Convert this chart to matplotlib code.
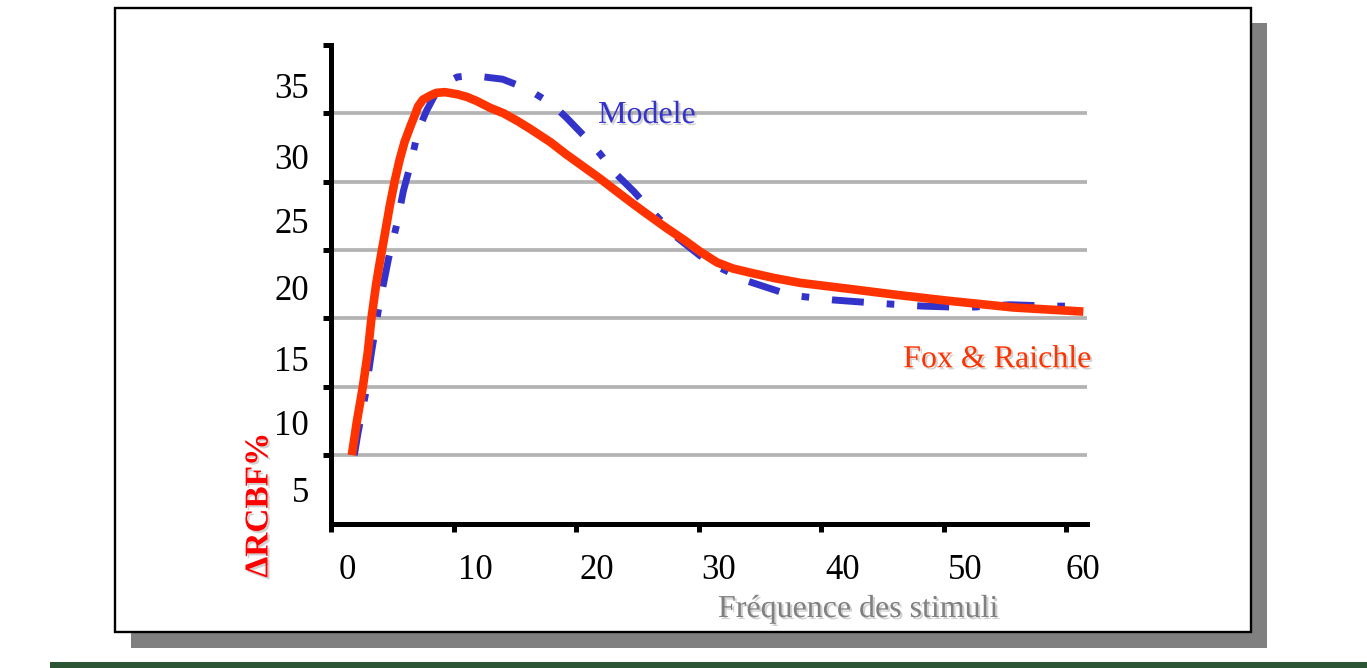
import matplotlib
matplotlib.use("Agg")
import matplotlib.pyplot as plt
from matplotlib.patches import Rectangle
from matplotlib.transforms import ScaledTranslation
import matplotlib.patheffects as pe

# ---- data ----
red_x = [1.7, 2.1, 2.6, 3.0, 3.3, 3.7, 4.0, 4.4, 4.8, 5.2, 5.6, 6.0, 6.5, 6.9, 7.1, 7.5,
         8.1, 8.6, 9.3, 10.3, 11.1, 11.9, 13.0, 14.1, 15.2, 16.2, 17.9, 19.2, 20.6, 22.0,
         23.3, 24.7, 26.0, 27.4, 28.8, 30.1, 31.5, 32.8, 34.2, 36.2, 38.3, 42.4, 46.4,
         50.3, 55.7, 61.4]
red_y = [5.0, 7.4, 10.0, 12.5, 15.0, 17.6, 19.2, 21.2, 23.25, 25.05, 26.6, 27.9, 29.1, 30.0,
         30.5, 31.0, 31.3, 31.5, 31.55, 31.4, 31.2, 30.9, 30.4, 30.0, 29.45, 28.9, 27.9, 27.0,
         26.1, 25.2, 24.3, 23.35, 22.5, 21.6, 20.75, 19.9, 19.1, 18.65, 18.35, 17.95, 17.6,
         17.15, 16.7, 16.3, 15.8, 15.5]

blue_x = [1.9, 2.2, 2.8, 3.3, 3.9, 4.7, 5.4, 5.9, 6.5, 7.1, 7.8, 8.6, 9.3, 10.3, 11.5,
          14.0, 16.0, 18.0, 19.2, 20.6, 22.0, 23.0, 24.7, 25.5, 28.2, 30.1, 31.5, 34.1,
          37.5, 41.0, 44.8, 48.3, 51.9, 55.4, 58.9, 60.7]
blue_y = [5.0, 6.6, 9.4, 12.5, 15.8, 19.4, 22.0, 24.3, 26.3, 28.7, 30.2, 31.55, 32.2, 32.66,
          32.77, 32.5, 31.8, 30.7, 29.7, 28.4, 27.0, 25.8, 24.3, 23.5, 20.95, 19.6, 18.8,
          17.7, 16.7, 16.35, 16.1, 15.9, 15.8, 16.0, 15.9, 15.9]

x_ticks = [0, 10, 20, 30, 40, 50, 60]
x_labels = ["0", "10", "20", "30", "40", "50", "60"]
y_ticks = [5, 10, 15, 20, 25, 30, 35]
y_labels = ["5", "10", "15", "20", "25", "30", "35"]
grid_vals = [5, 10, 15, 20, 25, 30]

# label placement offsets in pixels (layout only)
x_label_shift = [16, 21.5, 21, 20.5, 22, 21.5, 17]
y_label_shift = [34, 36, 40.5, 37, 39, 43.5, 40]

RED = "#ff3300"
BLUE = "#3333cc"
SERIF = ["Liberation Serif", "DejaVu Serif"]

W, H = 1367, 668
def fx(px):
    return px / W
def fy(py):
    return 1 - py / H

fig = plt.figure(figsize=(W / 100, H / 100), dpi=100)
fig.patch.set_facecolor("white")

# frame with shadow and green strip
fig.add_artist(Rectangle((fx(131), fy(648)), (1267 - 131) / W, (648 - 23) / H,
                         transform=fig.transFigure, facecolor="#808080",
                         edgecolor="none", zorder=-6))
fig.add_artist(Rectangle((fx(115), fy(632)), (1251 - 115) / W, (632 - 8) / H,
                         transform=fig.transFigure, facecolor="white",
                         edgecolor="black", lw=1.7, zorder=-5))
fig.add_artist(Rectangle((fx(50), 0), (W - 50) / W, 6 / H,
                         transform=fig.transFigure, facecolor="#2c5535",
                         edgecolor="none", zorder=-5))

ax = fig.add_axes([fx(331), fy(523.5), (1087 - 331) / W, (523.5 - 45) / H])
ax.set_facecolor("none")
ax.set_xlim(0, 61.7)
ax.set_ylim(0, 35)

for g in grid_vals:
    ax.axhline(g, color="#b3b3b3", lw=2.7, zorder=1)

ax.plot(blue_x, blue_y, color=BLUE, lw=5.0, dashes=(4.6, 3.3, 1.1, 3.3),
        dash_capstyle="butt", dash_joinstyle="round", zorder=3)
ax.plot(red_x, red_y, color=RED, lw=6.2, solid_capstyle="butt",
        solid_joinstyle="round", zorder=4)

for s in ["top", "right"]:
    ax.spines[s].set_visible(False)
for s in ["left", "bottom"]:
    ax.spines[s].set_linewidth(3.6)
    ax.spines[s].set_color("black")

ax.set_xticks(x_ticks)
ax.set_xticklabels(x_labels, fontfamily=SERIF, fontsize=25)
ax.set_yticks(y_ticks)
ax.set_yticklabels(y_labels, fontfamily=SERIF, fontsize=25)
ax.tick_params(axis="x", direction="out", length=5.8, width=3.6, pad=16, colors="black")
ax.tick_params(axis="y", direction="out", length=5.8, width=3.6, pad=10, colors="black")

for lab, dx in zip(ax.get_xticklabels(), x_label_shift):
    lab.set_transform(lab.get_transform() + ScaledTranslation(dx / 100, 0, fig.dpi_scale_trans))
for lab, dy in zip(ax.get_yticklabels(), y_label_shift):
    lab.set_transform(lab.get_transform() + ScaledTranslation(0, -dy / 100, fig.dpi_scale_trans))

shadow = [pe.withSimplePatchShadow(offset=(1.5, -1.5), shadow_rgbFace="#999999", alpha=0.45)]

ax.text(21.8, 29.3, "Modele", color=BLUE, fontfamily=SERIF, fontsize=23,
        ha="left", va="baseline", path_effects=shadow, zorder=5)
ax.text(46.7, 11.43, "Fox & Raichle", color=RED, fontfamily=SERIF, fontsize=23,
        ha="left", va="baseline", path_effects=shadow, zorder=5)
fig.text(fx(718), fy(617), "Fréquence des stimuli", color="#808080", fontfamily=SERIF,
         fontsize=23, ha="left", va="baseline", path_effects=shadow)
fig.text(fx(259), fy(505), "ΔRCBF%", color="#ff0000", fontfamily=SERIF, fontsize=24,
         fontweight="bold", rotation=90, ha="center", va="center", path_effects=shadow)

fig.savefig("out.png", dpi=100)
